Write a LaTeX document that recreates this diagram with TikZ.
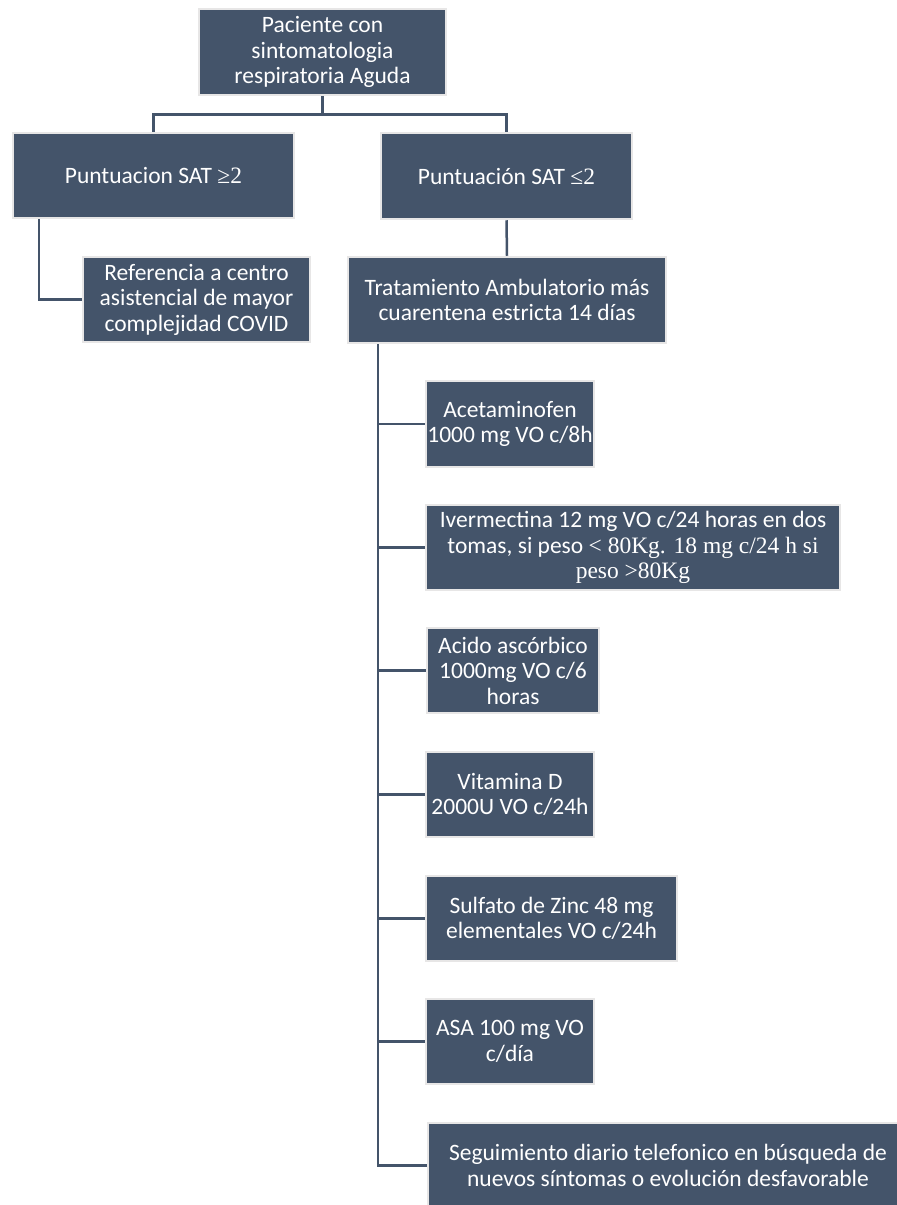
\documentclass[tikz,border=0pt]{standalone}
\usepackage{fontspec}
\setmainfont{Carlito}
\newfontfamily\tnr{Liberation Serif}
\usetikzlibrary{calc}
\definecolor{boxblue}{HTML}{44546A}
\definecolor{boxedge}{HTML}{E7E6E6}
\begin{document}
\begin{tikzpicture}[x=1pt,y=-1pt,
  box/.style={rectangle, fill=boxblue, draw=boxedge, line width=2.5pt, text=white, align=center, inner sep=0pt, font=\fontsize{23.5}{25.5}\selectfont, minimum height=85pt},
  link/.style={draw=boxblue, line width=2.5pt}]
\useasboundingbox (0,0) rectangle (897,1205);
\clip (0,0) rectangle (897,1205);
\fill[white] (0,0) rectangle (897,1205);

\node[box, minimum width=247pt, minimum height=86pt] (top) at (322.5,52) {Paciente con\\sintomatologia\\respiratoria Aguda};
\node[box, minimum width=281pt] (left) at (153.5,175.5) {Puntuacion SAT {\tnr ≥2}};
\node[box, minimum width=251pt, minimum height=86pt] (right) at (506.5,176) {Puntuación SAT {\tnr ≤2}};
\node[box, minimum width=227pt] (ref) at (196.5,299.5) {Referencia a centro\\asistencial de mayor\\complejidad COVID};
\node[box, minimum width=318pt, minimum height=86pt] (treat) at (507,300) {Tratamiento Ambulatorio más\\cuarentena estricta 14 días};
\node[box, minimum width=168pt, minimum height=86pt] (acet) at (510,424) {Acetaminofen\\1000 mg VO c/8h};
\node[box, minimum width=414pt] (iver) at (633,547.5) {Ivermectina 12 mg VO c/24 horas en dos\\tomas, si peso {\tnr < 80Kg. 18 mg c/24 h si}\\{\tnr peso >80Kg}};
\node[box, minimum width=172pt] (acido) at (513,670.5) {Acido ascórbico\\1000mg VO c/6\\horas};
\node[box, minimum width=168pt] (vitd) at (510,794.5) {Vitamina D\\2000U VO c/24h};
\node[box, minimum width=251pt] (sulf) at (551.5,918.5) {Sulfato de Zinc 48 mg\\elementales VO c/24h};
\node[box, minimum width=168pt] (asa) at (510,1041.5) {ASA 100 mg VO\\c/día};
\node[box, minimum width=480pt] (seg) at (668,1165.5) {Seguimiento diario telefonico en búsqueda de\\nuevos síntomas o evolución desfavorable};

\coordinate (j) at ($(top.south)+(0,18)$);
\draw[link] (top.south) -- (j);
\draw[link] (j) -| (left.north);
\draw[link] (j) -| (right.north);
\coordinate (lk) at ($(left.south west)+(27,0)$);
\draw[link] (lk) |- (ref.west);
\draw[link] (right.south) -- (treat.north);
\coordinate (tk) at ($(treat.south west)+(31,0)$);
\foreach \b in {acet,iver,acido,vitd,sulf,asa,seg}{
  \draw[link] (tk) |- (\b.west);
}
\end{tikzpicture}
\end{document}
